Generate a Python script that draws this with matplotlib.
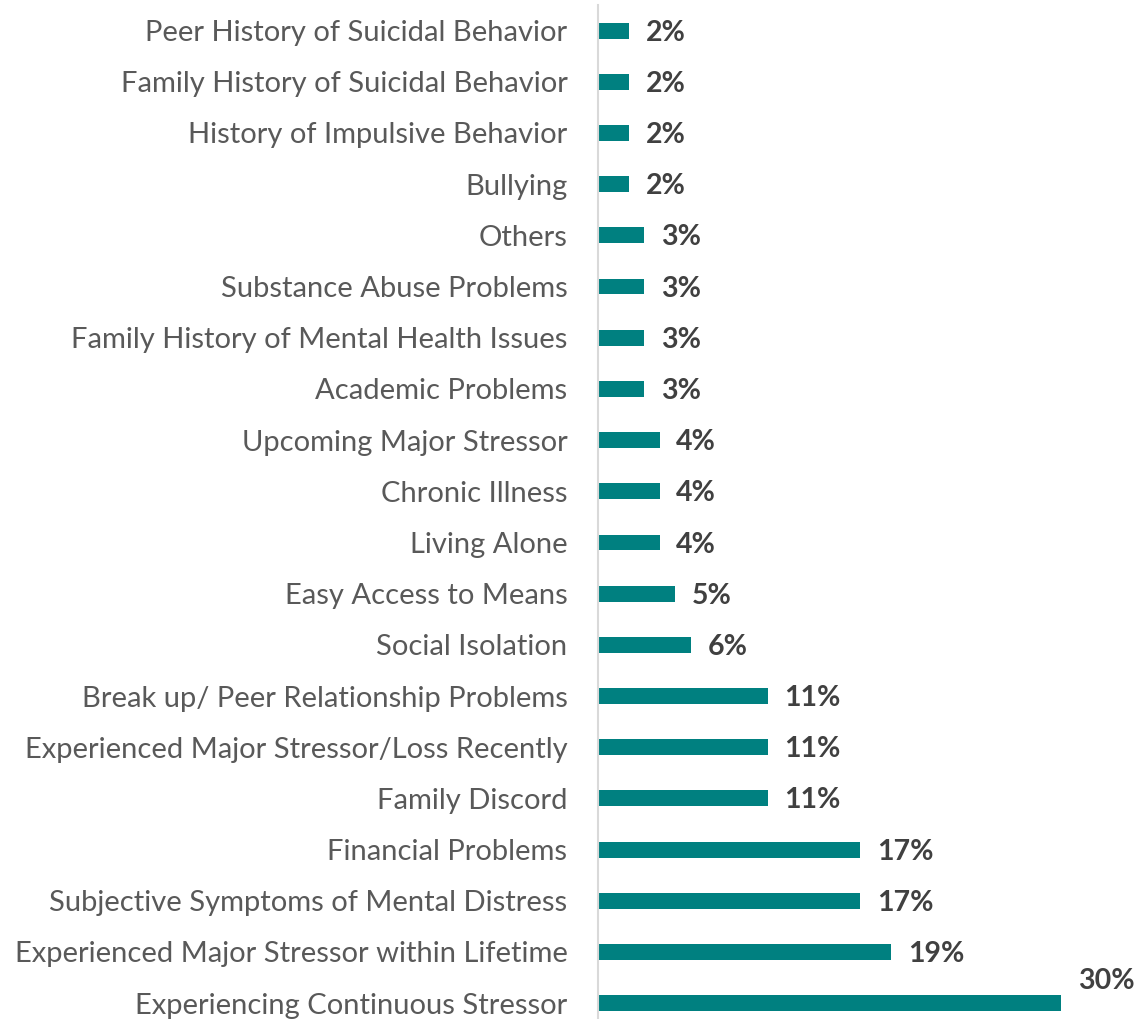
import matplotlib
matplotlib.use("Agg")
import matplotlib.pyplot as plt
import numpy as np

# categories top to bottom, as in the picture
categories = ["Peer History of Suicidal Behavior",
              "Family History of Suicidal Behavior",
              "History of Impulsive Behavior",
              "Bullying",
              "Others",
              "Substance Abuse Problems",
              "Family History of Mental Health Issues",
              "Academic Problems",
              "Upcoming Major Stressor",
              "Chronic Illness",
              "Living Alone",
              "Easy Access to Means",
              "Social Isolation",
              "Break up/ Peer Relationship Problems",
              "Experienced Major Stressor/Loss Recently",
              "Family Discord",
              "Financial Problems",
              "Subjective Symptoms of Mental Distress",
              "Experienced Major Stressor within Lifetime",
              "Experiencing Continuous Stressor"]
values = [2, 2, 2, 2, 3, 3, 3, 3, 4, 4, 4, 5, 6, 11, 11, 11, 17, 17, 19, 30]

plt.rcParams['font.family'] = ['Lato', 'DejaVu Sans']

fig = plt.figure(figsize=(11.35, 10.19), dpi=100)
ax = fig.add_axes([598/1135, 0, (1061-598)/1135, 1014/1019])

n = len(categories)
y = np.arange(n)[::-1]
ax.barh(y, values, height=0.31, color="#008080", zorder=2)

ax.set_xlim(0, 30)
ax.set_ylim(-0.31, n - 0.5)
ax.set_yticks(y)
ax.set_yticklabels(categories, fontsize=21, color="#595959")
ax.tick_params(axis='y', length=0, pad=22)
ax.set_xticks([])
for s in ["top", "right", "bottom"]:
    ax.spines[s].set_visible(False)
ax.spines["left"].set_color("#d9d9d9")
ax.spines["left"].set_linewidth(1.5)

# value labels
for yi, v in zip(y, values):
    if v == max(values):
        ax.annotate(f"{v}%", (v, yi), xytext=(12, 16), textcoords="offset points",
                    fontsize=20.5, fontweight="bold", color="#404040",
                    va="center", ha="left", annotation_clip=False)
    else:
        ax.annotate(f"{v}%", (v, yi), xytext=(12, -1.5), textcoords="offset points",
                    fontsize=20.5, fontweight="bold", color="#404040",
                    va="center", ha="left")

fig.savefig("out.png", dpi=100)
